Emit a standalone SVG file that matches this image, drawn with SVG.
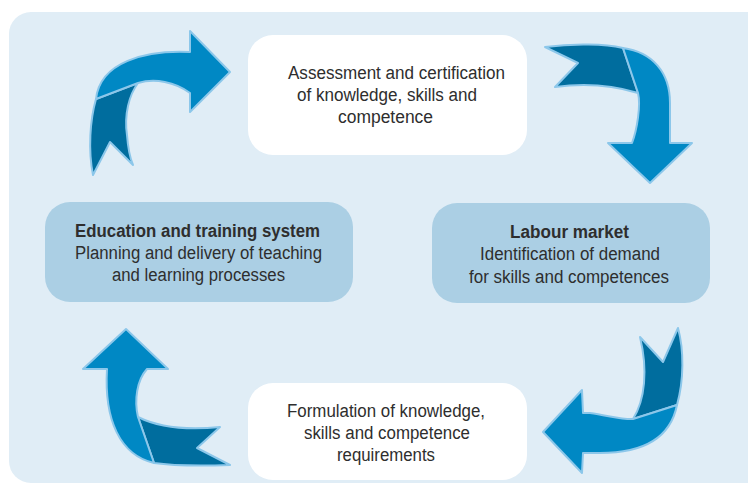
<svg xmlns="http://www.w3.org/2000/svg" width="748" height="485" viewBox="0 0 748 485">
<style>
.bg{fill:#e0edf6}
.white{fill:#ffffff}
.blue{fill:#abcfe4}
.t{font-family:"Liberation Sans",Arial,sans-serif;font-size:18px;fill:#2e2e2e}
.b{font-weight:bold}
.al{fill:#0088c4;stroke:#8cc7ea;stroke-width:2;stroke-linejoin:round}
.ad{fill:#006d9e;stroke:#8cc7ea;stroke-width:2;stroke-linejoin:round}
</style>
<rect class="bg" x="9" y="12" width="760" height="471" rx="22"/>
<g id="node-assessment">
<rect class="white" x="248" y="35" width="279" height="120" rx="25"/>
<text class="t" x="288" y="79" textLength="217" lengthAdjust="spacingAndGlyphs">Assessment and certification</text>
<text class="t" x="297" y="101" textLength="180" lengthAdjust="spacingAndGlyphs">of knowledge, skills and</text>
<text class="t" x="338" y="123" textLength="95" lengthAdjust="spacingAndGlyphs">competence</text>
</g>
<g id="node-education">
<rect class="blue" x="45" y="202" width="308" height="100" rx="25"/>
<text class="t b" x="75" y="237" textLength="245" lengthAdjust="spacingAndGlyphs">Education and training system</text>
<text class="t" x="75" y="259" textLength="247" lengthAdjust="spacingAndGlyphs">Planning and delivery of teaching</text>
<text class="t" x="112" y="281" textLength="173" lengthAdjust="spacingAndGlyphs">and learning processes</text>
</g>
<g id="node-labour">
<rect class="blue" x="432" y="203" width="278" height="100" rx="25"/>
<text class="t b" x="510" y="238" textLength="119" lengthAdjust="spacingAndGlyphs">Labour market</text>
<text class="t" x="480" y="260" textLength="180" lengthAdjust="spacingAndGlyphs">Identification of demand</text>
<text class="t" x="469" y="283" textLength="200" lengthAdjust="spacingAndGlyphs">for skills and competences</text>
</g>
<g id="node-formulation">
<rect class="white" x="248" y="383" width="279" height="97" rx="25"/>
<text class="t" x="287" y="417" textLength="198" lengthAdjust="spacingAndGlyphs">Formulation of knowledge,</text>
<text class="t" x="304" y="439" textLength="166" lengthAdjust="spacingAndGlyphs">skills and competence</text>
<text class="t" x="337" y="461" textLength="98" lengthAdjust="spacingAndGlyphs">requirements</text>
</g>
<g id="connectors">
<g id="arrow-top-left">
<path class="ad" d="M96 99 L138 83 C129 95 124 115 127 135 C128 148 130 158 133 165 L110 142 L93 175 C88 150 90 120 96 99 Z"/>
<path class="al" d="M96 99 C100 62 145 50 190 52 L190 31 L230 72 L190 112 L190 93 C175 82 155 78 138 83 Z"/>
</g>
<g id="arrow-top-right">
<path class="ad" d="M545 47 C575 43 605 44 623 48 L638 93 C615 86 585 83 555 87 L578 63 Z"/>
<path class="al" d="M623 48 C652 52 670 72 670 103 L670 143 L692 143 L650 183 L608 143 L632 143 C637 130 641 105 638 93 Z"/>
</g>
<g id="arrow-bottom-right">
<path class="ad" d="M640 337 L663 362 L678 328 C684 350 684 380 677 405 L633 419 C645 400 648 370 640 337 Z"/>
<path class="al" d="M677 405 C670 440 640 453 600 453 L583 453 L582 473 L543 432 L582 390 L583 413 L590 413 C610 416 625 420 633 419 Z"/>
</g>
<g id="arrow-bottom-left">
<path class="ad" d="M138 417 C160 428 190 430 220 427 L197 448 L230 465 C200 466 175 466 154 463 Z"/>
<path class="al" d="M154 463 C120 455 104 420 107 369 L83 369 L126 329 L168 369 L147 369 C137 380 134 400 138 417 Z"/>
</g>
</g>
</svg>
